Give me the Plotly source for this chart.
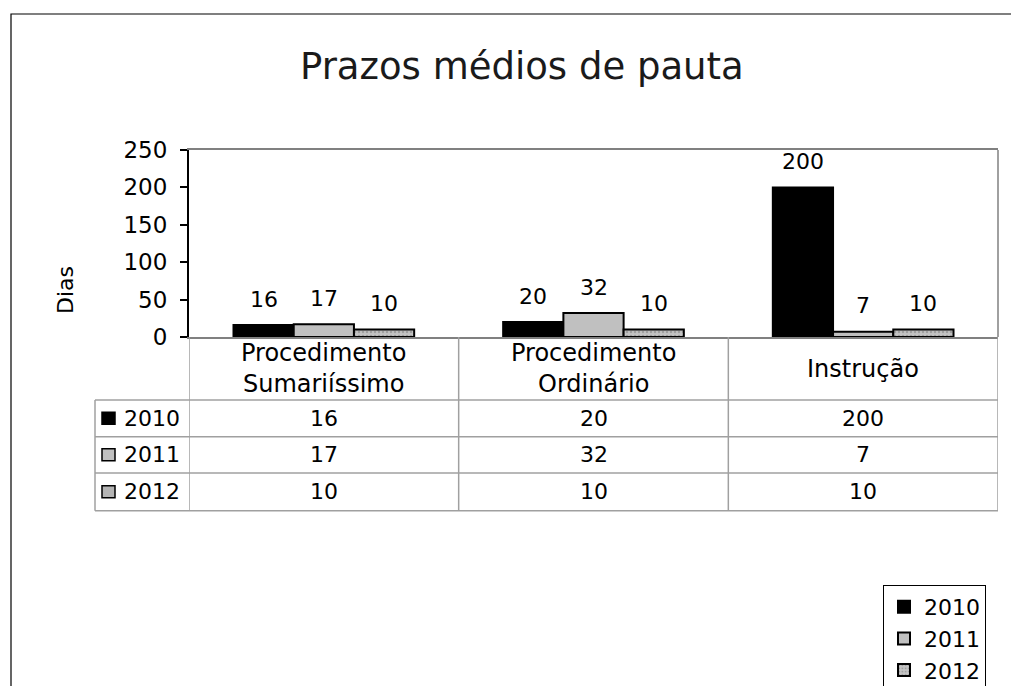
import plotly.graph_objects as go

# ---------------- data ----------------
categories = ["Procedimento<br>Sumariíssimo", "Procedimento<br>Ordinário", "Instrução"]
years = ["2010", "2011", "2012"]
values_2010 = [16, 20, 200]
values_2011 = [17, 32, 7]
values_2012 = [10, 10, 10]
y_ticks = [0, 50, 100, 150, 200, 250]
title_text = "Prazos médios de pauta"
y_title = "Dias"

series = [values_2010, values_2011, values_2012]

# ---------------- layout geometry (pixels of the reference page) ----------------
OFF = 8                                   # page body margin
W, H = 1019 - OFF, 686 - OFF
L, R, T, B = 189, 998, 150, 337           # plot area in page pixels
FONT = "DejaVu Sans"
FS = 22
GRID = "#a0a0a0"
BARGAP = 0.33

def px(x):
    return (x - L) / (R - L)

def py(y):
    return (B - y) / (B - T)

fills = ["#000000", "#c0c0c0", "#b4b4b4"]
patterns = [None, None, dict(shape=".", fgcolor="#7a7a7a", bgcolor="#c4c4c4", size=4, solidity=0.35)]

x_idx = list(range(len(categories)))

fig = go.Figure()
for i, (yr, vals) in enumerate(zip(years, series)):
    marker = dict(color=fills[i], line=dict(color="#000000", width=2))
    if patterns[i]:
        marker["pattern"] = patterns[i]
    fig.add_trace(go.Bar(x=x_idx, y=vals, name=yr, marker=marker))

annotations = []
shapes = []

# data labels above bars
bar_w = (1 - BARGAP) / len(years)
for i, vals in enumerate(series):
    off = (i - (len(years) - 1) / 2) * bar_w
    for j, v in enumerate(vals):
        annotations.append(dict(x=j + off, y=v, xref="x", yref="y", text=str(v),
                                showarrow=False, yshift=26, yanchor="middle", xanchor="center",
                                font=dict(family=FONT, size=FS, color="#000")))

# title
annotations.append(dict(x=px(522), y=py(66), xref="paper", yref="paper", text=title_text,
                        showarrow=False, xanchor="center", yanchor="middle",
                        font=dict(family=FONT, size=37, color="#1a1a1a")))
# y axis title
annotations.append(dict(x=px(65), y=py(290), xref="paper", yref="paper", text=y_title,
                        showarrow=False, textangle=-90, xanchor="center", yanchor="middle",
                        font=dict(family=FONT, size=FS, color="#000")))

# ---------------- data table ----------------
row_lines = [400, 436.7, 473, 510.7]
table_left = 95
header_center = (B + row_lines[0]) / 2
for j, c in enumerate(categories):
    annotations.append(dict(x=j, y=py(header_center), xref="x", yref="paper", text=c,
                            showarrow=False, yanchor="middle", xanchor="center",
                            font=dict(family=FONT, size=24, color="#000")))
for i, (yr, vals) in enumerate(zip(years, series)):
    yc = (row_lines[i] + row_lines[i + 1]) / 2
    for j, v in enumerate(vals):
        annotations.append(dict(x=j, y=py(yc), xref="x", yref="paper", text=str(v),
                                showarrow=False, yanchor="middle", xanchor="center",
                                font=dict(family=FONT, size=FS, color="#000")))
    annotations.append(dict(x=px(151.5), y=py(yc), xref="paper", yref="paper", text=yr,
                            showarrow=False, yanchor="middle", xanchor="center",
                            font=dict(family=FONT, size=FS, color="#000")))
    # key square
    shapes.append(dict(type="rect", xref="paper", yref="paper",
                       x0=px(102), x1=px(115), y0=py(yc - 6), y1=py(yc + 6),
                       fillcolor=fills[i], line=dict(color="#000", width=1.5), layer="above"))

# horizontal table lines
for yl in row_lines:
    shapes.append(dict(type="line", xref="paper", yref="paper", x0=px(table_left), x1=1,
                       y0=py(yl), y1=py(yl), line=dict(color=GRID, width=1.5)))
# vertical table lines at category boundaries
for b in [x - 0.5 for x in range(len(categories) + 1)]:
    shapes.append(dict(type="line", xref="x", yref="paper", x0=b, x1=b,
                       y0=0, y1=py(row_lines[-1]), line=dict(color=GRID, width=1.5)))
shapes.append(dict(type="line", xref="paper", yref="paper", x0=px(table_left), x1=px(table_left),
                   y0=py(row_lines[0]), y1=py(row_lines[-1]), line=dict(color=GRID, width=1.5)))

# plot area right border
shapes.append(dict(type="line", xref="paper", yref="paper", x0=1, x1=1, y0=0, y1=1,
                   line=dict(color="#808080", width=1.5)))
# outer chart border
shapes.append(dict(type="rect", xref="paper", yref="paper", x0=px(11), x1=px(1040),
                   y0=py(720), y1=py(14), line=dict(color="#000", width=1.2)))

fig.update_layout(
    width=W, height=H,
    margin=dict(l=L - OFF, r=W - (R - OFF), t=T - OFF, b=H - (B - OFF), autoexpand=False),
    paper_bgcolor="white", plot_bgcolor="white",
    barmode="group", bargap=BARGAP, bargroupgap=0,
    font=dict(family=FONT, size=FS, color="#000"),
    showlegend=True,
    legend=dict(x=px(883), y=py(585), xanchor="left", yanchor="top",
                bordercolor="#000", borderwidth=1, bgcolor="white",
                entrywidth=95, entrywidthmode="pixels",
                font=dict(family=FONT, size=FS), traceorder="normal"),
    annotations=annotations, shapes=shapes,
    xaxis=dict(range=[-0.5, len(categories) - 0.5], showticklabels=False, ticks="",
               showline=True, linecolor="#808080", linewidth=1.5, mirror=True,
               showgrid=False, zeroline=False, fixedrange=True),
    yaxis=dict(range=[0, 250], tickvals=y_ticks, ticks="outside", ticklen=7,
               tickcolor="#000", tickwidth=1.5, showline=True, linecolor="#000", linewidth=2,
               showgrid=False, zeroline=False, tickfont=dict(family=FONT, size=23),
               ticklabelstandoff=8, fixedrange=True),
)

fig.write_html("out.html")
